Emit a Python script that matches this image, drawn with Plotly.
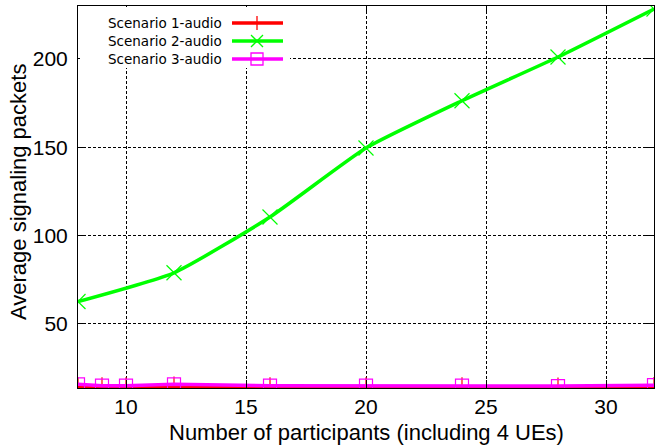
import plotly.graph_objects as go

# ---- data ----
x_s2 = [8, 12, 16, 20, 24, 28, 32]
scenario2 = [62.5, 78.8, 110.4, 149.5, 176.3, 201.1, 228.3]
x_s13 = [8, 9, 10, 12, 16, 20, 24, 28, 32]
scenario1 = [14.0, 14.0, 14.0, 14.5, 14.0, 14.0, 14.0, 13.9, 14.2]
scenario3 = [15.6, 14.8, 14.8, 15.6, 14.8, 14.8, 14.8, 14.6, 15.1]
series_names = ["Scenario 1-audio", "Scenario 2-audio", "Scenario 3-audio"]
colors = ["#ff0000", "#00ff00", "#ff00ff"]
x_ticks = [10, 15, 20, 25, 30]
y_ticks = [50, 100, 150, 200]

W, H = 658, 448
L, R, T, B = 78, 4, 6, 60
PW, PH = W - L - R, H - T - B

fig = go.Figure()
fig.add_trace(go.Scatter(x=x_s13, y=scenario1, mode="lines+markers", name=series_names[0],
                         line=dict(color=colors[0], width=3),
                         marker=dict(symbol="cross-thin", size=14, line=dict(color=colors[0], width=1.2))))
fig.add_trace(go.Scatter(x=x_s2, y=scenario2, mode="lines+markers", name=series_names[1],
                         line=dict(color=colors[1], width=3.5, shape="spline", smoothing=0.5),
                         marker=dict(symbol="x-thin", size=15, line=dict(color=colors[1], width=1.2))))
fig.add_trace(go.Scatter(x=x_s13, y=scenario3, mode="lines+markers", name=series_names[2],
                         line=dict(color=colors[2], width=3.5),
                         marker=dict(symbol="square-open", size=13, color=colors[2],
                                     line=dict(color=colors[2], width=1.2))))

def px_x(p):
    return (p - L) / PW

def px_y(p):
    return (H - B - p) / PH

shapes = []
annotations = []
# legend background box (gnuplot style, text then sample)
shapes.append(dict(type="rect", xref="paper", yref="paper", x0=px_x(80), x1=px_x(290),
                   y0=px_y(68), y1=px_y(7), fillcolor="white", line=dict(width=0), layer="above"))
rows = [23, 41, 59]
symbols = ["plus", "x", "square"]
for i, (nm, c, sy, ry) in enumerate(zip(series_names, colors, symbols, rows)):
    annotations.append(dict(xref="paper", yref="paper", x=px_x(224), y=px_y(ry), text=nm,
                            showarrow=False, xanchor="right", yanchor="middle",
                            font=dict(family="DejaVu Sans", size=13.5, color="black")))
    shapes.append(dict(type="line", xref="paper", yref="paper", x0=px_x(232), x1=px_x(283),
                       y0=px_y(ry), y1=px_y(ry), line=dict(color=c, width=3.5), layer="above"))
    cx = 257
    if sy == "plus":
        shapes.append(dict(type="line", xref="paper", yref="paper", x0=px_x(cx), x1=px_x(cx),
                           y0=px_y(ry - 7), y1=px_y(ry + 7), line=dict(color=c, width=1.3), layer="above"))
        shapes.append(dict(type="line", xref="paper", yref="paper", x0=px_x(cx - 7), x1=px_x(cx + 7),
                           y0=px_y(ry), y1=px_y(ry), line=dict(color=c, width=1.3), layer="above"))
    elif sy == "x":
        shapes.append(dict(type="line", xref="paper", yref="paper", x0=px_x(cx - 6), x1=px_x(cx + 6),
                           y0=px_y(ry - 6), y1=px_y(ry + 6), line=dict(color=c, width=1.3), layer="above"))
        shapes.append(dict(type="line", xref="paper", yref="paper", x0=px_x(cx - 6), x1=px_x(cx + 6),
                           y0=px_y(ry + 6), y1=px_y(ry - 6), line=dict(color=c, width=1.3), layer="above"))
    else:
        shapes.append(dict(type="rect", xref="paper", yref="paper", x0=px_x(cx - 6), x1=px_x(cx + 6),
                           y0=px_y(ry + 6), y1=px_y(ry - 6), line=dict(color=c, width=1.3), layer="above"))

# axis titles placed as annotations for exact positioning
annotations.append(dict(xref="paper", yref="paper", x=px_x(366), y=px_y(432),
                        text="Number of participants (including 4 UEs)", showarrow=False,
                        xanchor="center", yanchor="middle",
                        font=dict(family="Liberation Sans", size=22, color="black")))
annotations.append(dict(xref="paper", yref="paper", x=px_x(18), y=px_y(192),
                        text="Average signaling packets", showarrow=False, textangle=-90,
                        xanchor="center", yanchor="middle",
                        font=dict(family="Liberation Sans", size=22, color="black")))

axis_common = dict(showline=True, linecolor="black", linewidth=1, mirror="ticks",
                   ticks="inside", ticklen=8, tickcolor="black", tickwidth=1,
                   showgrid=True, gridcolor="black", gridwidth=1, griddash="3px,2px",
                   zeroline=False, automargin=False,
                   tickfont=dict(family="Liberation Sans", size=21, color="black"))

fig.update_layout(
    width=W, height=H,
    margin=dict(l=L, r=R, t=T, b=B),
    paper_bgcolor="white", plot_bgcolor="white",
    showlegend=False,
    shapes=shapes, annotations=annotations,
    xaxis=dict(range=[8, 32], tickvals=x_ticks, **axis_common),
    yaxis=dict(range=[13.5, 230], tickvals=y_ticks, ticklabelstandoff=5, **axis_common),
)

fig.write_html("out.html", config={"displayModeBar": False},
               post_script="document.body.style.margin='0px';")
